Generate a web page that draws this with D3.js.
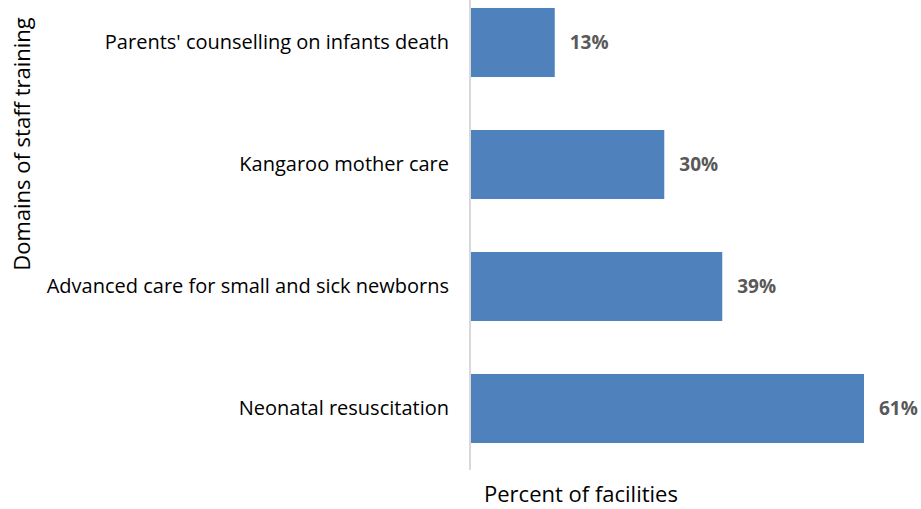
<!DOCTYPE html>
<html>
<head>
<meta charset="utf-8">
<script src="https://d3js.org/d3.v7.min.js"></script>
<style>
  body { margin: 0; background: #fff; }
  svg { display: block; }
  text { font-family: "Open Sans", "Noto Sans", sans-serif; }
</style>
</head>
<body>
<svg id="chart" width="921" height="509"></svg>
<script>
const categories = [
  "Parents' counselling on infants death",
  "Kangaroo mother care",
  "Advanced care for small and sick newborns",
  "Neonatal resuscitation"
];
const values = [13, 30, 39, 61];

const svg = d3.select("#chart");

// 軸の位置
const x0 = 471;
const xScale = d3.scaleLinear()
    .domain([0, 61])
    .range([x0, 864]);

const yScale = d3.scaleBand()
    .domain(categories)
    .range([-18.5, 469.5])
    .paddingInner(0.434)
    .paddingOuter(0.217);

// bars
svg.selectAll("rect.bar")
  .data(values)
  .enter()
  .append("rect")
  .attr("class", "bar")
  .attr("x", x0)
  .attr("y", function(d, i){ return yScale(categories[i]); })
  .attr("width", function(d){ return xScale(d) - x0; })
  .attr("height", yScale.bandwidth())
  .attr("fill", "#4f81bd");

// value labels
svg.selectAll("text.val")
  .data(values)
  .enter()
  .append("text")
  .attr("class", "val")
  .attr("x", function(d){ return xScale(d) + 15; })
  .attr("y", function(d, i){ return yScale(categories[i]) + yScale.bandwidth() / 2; })
  .attr("dy", "0.35em")
  .attr("font-size", "19px")
  .attr("font-weight", "bold")
  .attr("fill", "#595959")
  .text(function(d){ return d + "%"; });

// category axis
const yAxis = svg.append("g")
    .attr("transform", "translate(" + (x0 - 1) + ",0)")
    .call(d3.axisLeft(yScale).tickSize(0).tickPadding(21));
yAxis.select(".domain")
    .attr("d", "M0,0V470")
    .attr("stroke", "#d9d9d9")
    .attr("stroke-width", 2);
yAxis.selectAll("text")
    .attr("font-size", "20px")
    .attr("fill", "#000")
    .style("font-family", "'Open Sans', sans-serif");

// titles
svg.append("text")
  .attr("x", 581)
  .attr("y", 502)
  .attr("text-anchor", "middle")
  .attr("font-size", "22px")
  .text("Percent of facilities");

svg.append("text")
  .attr("transform", "translate(30,144) rotate(-90)")
  .attr("text-anchor", "middle")
  .attr("font-size", "22px")
  .text("Domains of staff training");
</script>
</body>
</html>
